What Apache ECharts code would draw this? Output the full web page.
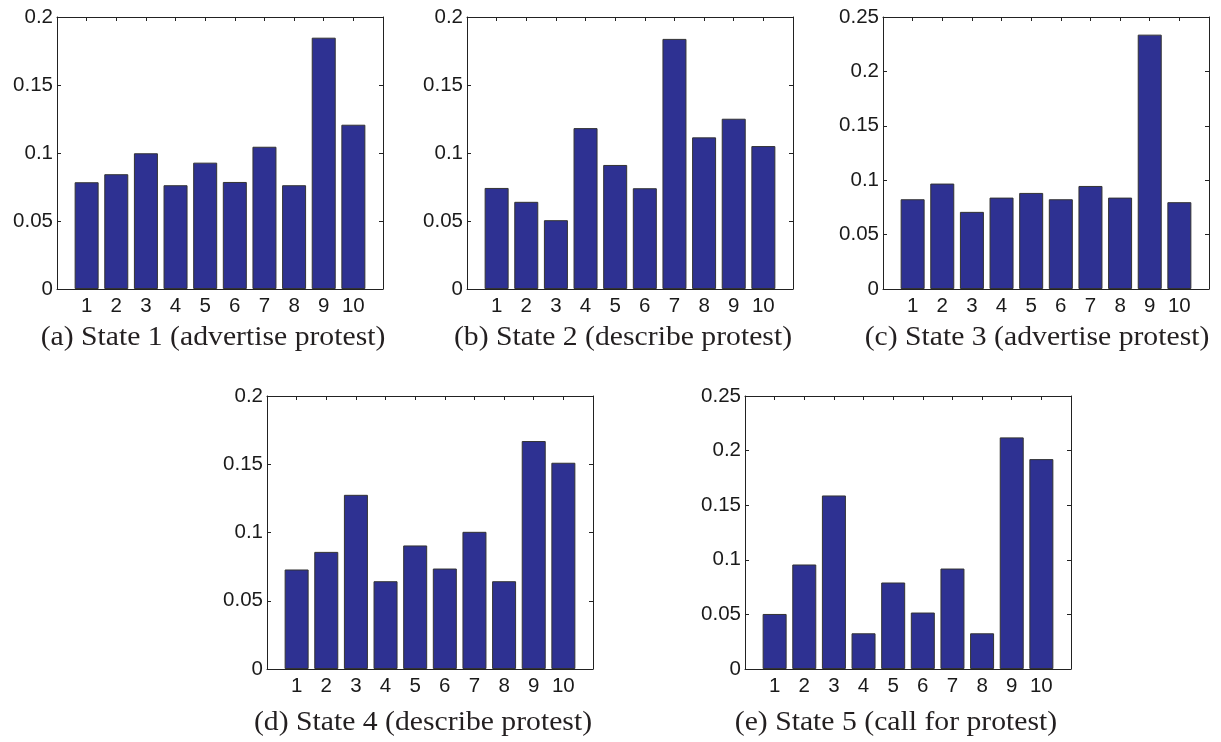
<!DOCTYPE html>
<html>
<head>
<meta charset="utf-8">
<script src="https://cdn.jsdelivr.net/npm/echarts@6/dist/echarts.min.js"></script>
<style>
  html, body { margin: 0; padding: 0; background: #fff; }
  #chart { width: 1221px; height: 742px; }
</style>
</head>
<body>
<div id="chart"></div>
<script>
// Emission probabilities of the 10 observation symbols for each hidden state
const symbols = [1, 2, 3, 4, 5, 6, 7, 8, 9, 10];

const state1 = [0.0785, 0.0844, 0.0998, 0.0763, 0.0929, 0.0787, 0.1046, 0.0763, 0.1848, 0.1208];
const state2 = [0.0743, 0.0641, 0.0506, 0.1183, 0.0912, 0.0741, 0.1839, 0.1115, 0.1252, 0.1051];
const state3 = [0.0825, 0.0969, 0.0709, 0.0840, 0.0883, 0.0825, 0.0947, 0.0840, 0.2338, 0.0798];
const state4 = [0.0729, 0.0858, 0.1276, 0.0643, 0.0905, 0.0736, 0.1005, 0.0643, 0.1670, 0.1511];
const state5 = [0.0504, 0.0957, 0.1589, 0.0327, 0.0792, 0.0517, 0.0920, 0.0327, 0.2121, 0.1922];

const yMaxes = [0.2, 0.2, 0.25, 0.2, 0.25];
const yStep = 0.05;

const captions = [
  '(a) State 1 (advertise protest)',
  '(b) State 2 (describe protest)',
  '(c) State 3 (advertise protest)',
  '(d) State 4 (describe protest)',
  '(e) State 5 (call for protest)'
];

const allStates = [state1, state2, state3, state4, state5];

// panel frames: left, top, width, height (px)
const frames = [
  [57, 17, 326, 272],
  [467, 17, 326, 272],
  [883, 17, 326, 272],
  [267, 396, 326, 273],
  [745, 396, 326, 273]
];
// caption centres
const captionPos = [[213, 338], [623, 338], [1037, 338], [423, 723], [896, 723]];

const barFill = '#2E3192';
const inkColor = '#1a1a1a';
const sansFont = 'Liberation Sans';
const serifFont = 'Liberation Serif';

const grids = [], xAxes = [], yAxes = [], series = [], graphics = [];

const axisLine = { show: true, onZero: false, lineStyle: { color: '#222', width: 1 } };
const tickStyle = { show: true, inside: true, length: 4, lineStyle: { color: '#222', width: 1 } };

frames.forEach((f, i) => {
  grids.push({ left: f[0], top: f[1], width: f[2], height: f[3], containLabel: false });

  // bottom x axis with symbol labels
  xAxes.push({
    type: 'value', gridIndex: i, position: 'bottom', min: 0, max: 11, interval: 1,
    axisLine: axisLine, axisTick: tickStyle, splitLine: { show: false },
    axisLabel: {
      margin: 7, fontSize: 20.5, color: inkColor, fontFamily: sansFont,
      formatter: v => (v >= 1 && v <= 10 ? String(v) : '')
    }
  });
  // top x axis: frame edge with ticks only
  xAxes.push({
    type: 'value', gridIndex: i, position: 'top', min: 0, max: 11, interval: 1,
    axisLine: axisLine, axisTick: tickStyle, splitLine: { show: false },
    axisLabel: { show: false }
  });

  yAxes.push({
    type: 'value', gridIndex: i, position: 'left', min: 0, max: yMaxes[i], interval: yStep,
    axisLine: axisLine, axisTick: tickStyle, splitLine: { show: false },
    axisLabel: {
      margin: 4, fontSize: 20.5, color: inkColor, fontFamily: sansFont,
      formatter: v => String(parseFloat(v.toFixed(2)))
    }
  });
  yAxes.push({
    type: 'value', gridIndex: i, position: 'right', min: 0, max: yMaxes[i], interval: yStep,
    axisLine: axisLine, axisTick: tickStyle, splitLine: { show: false },
    axisLabel: { show: false }
  });

  series.push({
    type: 'bar',
    xAxisIndex: i * 2,
    yAxisIndex: i * 2,
    data: symbols.map((s, k) => [s, allStates[i][k]]),
    barWidth: 24,
    itemStyle: { color: barFill, borderColor: '#333', borderWidth: 1 },
    emphasis: { disabled: true },
    silent: true
  });

  graphics.push({
    type: 'text',
    x: captionPos[i][0],
    y: captionPos[i][1],
    scaleX: 1.1,
    style: {
      text: captions[i],
      fontSize: 27,
      fontFamily: serifFont,
      fill: '#231f20',
      textAlign: 'center',
      textVerticalAlign: 'middle'
    }
  });
});

const chart = echarts.init(document.getElementById('chart'), null, { renderer: 'canvas' });
chart.setOption({
  animation: false,
  backgroundColor: '#ffffff',
  grid: grids,
  xAxis: xAxes,
  yAxis: yAxes,
  series: series,
  graphic: graphics
});
</script>
</body>
</html>
